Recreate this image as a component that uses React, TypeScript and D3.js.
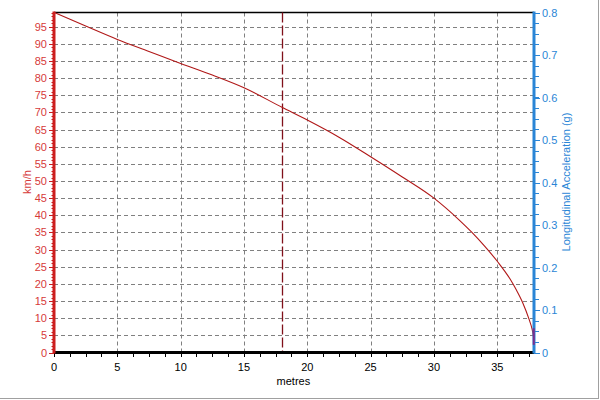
import React from "react";
import * as d3 from "d3";

const distance = [0, 2.5, 5, 7.5, 10, 12.5, 15, 18, 20, 22.5, 25, 27.5, 30, 32, 33, 34, 35, 36, 36.5, 37, 37.5, 37.75, 37.88];
const speed = [99.2, 95.2, 91.3, 87.8, 84.3, 80.9, 77.2, 71.5, 67.8, 62.8, 57.1, 51.2, 45.0, 38.6, 35.0, 31.0, 26.6, 21.5, 18.3, 14.6, 9.8, 6.8, 4.3];
const accelDistance = [37.88, 37.88];
const accelValues = [0.057, 0.018];
const markerDistance = 18;
const xTicks = [0, 5, 10, 15, 20, 25, 30, 35];
const speedTicks = [0, 5, 10, 15, 20, 25, 30, 35, 40, 45, 50, 55, 60, 65, 70, 75, 80, 85, 90, 95];
const accelTicks = [0, 0.1, 0.2, 0.3, 0.4, 0.5, 0.6, 0.7, 0.8];

const W = 600, H = 400;
const L = 54, R = 534, T = 12.5, B = 352.5;
const FONT = "'Liberation Sans', Arial, sans-serif";
const RED_TXT = "#d63a3a";
const RED_AX = "#cc1f1f";
const BLUE = "#2a85d6";

export default function App() {
  const x = d3.scaleLinear().domain([0, 37.9]).range([L, R]);
  const y = d3.scaleLinear().domain([0, 99.15]).range([B, T]);
  const y2 = d3.scaleLinear().domain([0, 0.8]).range([B, T]);

  const line = d3.line<number>()
    .x((_, i) => x(distance[i]))
    .y((d) => y(d))
    .curve(d3.curveMonotoneX);
  const accelLine = d3.line<number>()
    .x((_, i) => x(accelDistance[i]))
    .y((d) => y2(d));

  const minorSpeed = d3.range(0, 100, 1).filter((v) => v % 5 !== 0 && y(v) >= T);
  const minorX = d3.range(0, 37.9, 1.25);
  const minorAccel = d3.range(0, 0.8001, 0.025);

  return (
    <svg width={W} height={H} style={{ position: "absolute", left: 0, top: 0, background: "#fff" }}>
      <rect x={0} y={0} width={W} height={H} fill="#fff" />
      {/* frame */}
      <line x1={598.5} y1={0} x2={598.5} y2={399} stroke="#a0a0a0" />
      <line x1={0} y1={398.5} x2={599} y2={398.5} stroke="#a0a0a0" />

      {/* grid */}
      {xTicks.filter((t) => t > 0).map((t) => (
        <line key={"gx" + t} x1={Math.round(x(t)) + 0.5} x2={Math.round(x(t)) + 0.5} y1={T} y2={B}
          stroke="#808080" strokeDasharray="4,3" />
      ))}
      {speedTicks.filter((t) => t > 0).map((t) => (
        <line key={"gy" + t} x1={L} x2={R} y1={Math.round(y(t)) + 0.5} y2={Math.round(y(t)) + 0.5}
          stroke="#808080" strokeDasharray="4,3" />
      ))}

      {/* top border */}
      <line x1={L} x2={R} y1={T} y2={T} stroke="#000" strokeWidth={1.5} />

      {/* marker line */}
      <line x1={Math.round(x(markerDistance)) + 0.5} x2={Math.round(x(markerDistance)) + 0.5} y1={T} y2={B}
        stroke="#80101a" strokeWidth={1.3} strokeDasharray="10,3" />

      {/* data */}
      <path d={line(speed) || ""} fill="none" stroke="#b01818" strokeWidth={1.1} />

      {/* bottom axis */}
      {minorX.map((t) => (
        <line key={"mx" + t} x1={Math.round(x(t)) + 0.5} x2={Math.round(x(t)) + 0.5} y1={B} y2={B + 4.5} stroke="#000" />
      ))}
      <line x1={L} x2={R} y1={B} y2={B} stroke="#000" strokeWidth={3} />
      {xTicks.map((t) => (
        <text key={"xl" + t} x={x(t)} y={371} textAnchor="middle" fontFamily={FONT} fontSize={11} fill="#000">{t}</text>
      ))}
      <text x={x(18.9)} y={385} textAnchor="middle" fontFamily={FONT} fontSize={11} fill="#000">metres</text>

      {/* left axis */}
      {minorSpeed.map((t) => (
        <line key={"ms" + t} x1={L - 2.5} x2={L} y1={Math.round(y(t)) + 0.5} y2={Math.round(y(t)) + 0.5} stroke={RED_AX} />
      ))}
      {speedTicks.map((t) => (
        <line key={"Ms" + t} x1={L - 5} x2={L} y1={Math.round(y(t)) + 0.5} y2={Math.round(y(t)) + 0.5} stroke={RED_AX} />
      ))}
      <line x1={L} x2={L} y1={T - 1} y2={B + 1} stroke={RED_AX} strokeWidth={3} />
      {speedTicks.map((t) => (
        <text key={"sl" + t} x={47} y={y(t) + 4} textAnchor="end" fontFamily={FONT} fontSize={11} fill={RED_TXT}>{t}</text>
      ))}
      <text transform={`translate(31,${182}) rotate(-90)`} textAnchor="middle" fontFamily={FONT} fontSize={11} fill={RED_TXT}>km/h</text>

      {/* right axis */}
      {minorAccel.map((t) => (
        <line key={"ma" + t} x1={R} x2={R + 5} y1={Math.round(y2(t)) + 0.5} y2={Math.round(y2(t)) + 0.5} stroke={BLUE} />
      ))}
      {accelTicks.map((t) => (
        <line key={"Ma" + t} x1={R} x2={R + 6} y1={Math.round(y2(t)) + 0.5} y2={Math.round(y2(t)) + 0.5} stroke={BLUE} />
      ))}
      <line x1={R} x2={R} y1={T - 1} y2={B + 1} stroke={BLUE} strokeWidth={3} />
      <path d={accelLine(accelValues) || ""} fill="none" stroke="#7a2d8c" strokeWidth={2} />
      {accelTicks.map((t) => (
        <text key={"al" + t} x={542} y={y2(t) + 4} textAnchor="start" fontFamily={FONT} fontSize={11} fill={BLUE}>{t === 0 ? "0" : t.toFixed(1)}</text>
      ))}
      <text transform={`translate(570,${182}) rotate(-90)`} textAnchor="middle" fontFamily={FONT} fontSize={11} fill={BLUE}>Longitudinal Acceleration (g)</text>
    </svg>
  );
}
